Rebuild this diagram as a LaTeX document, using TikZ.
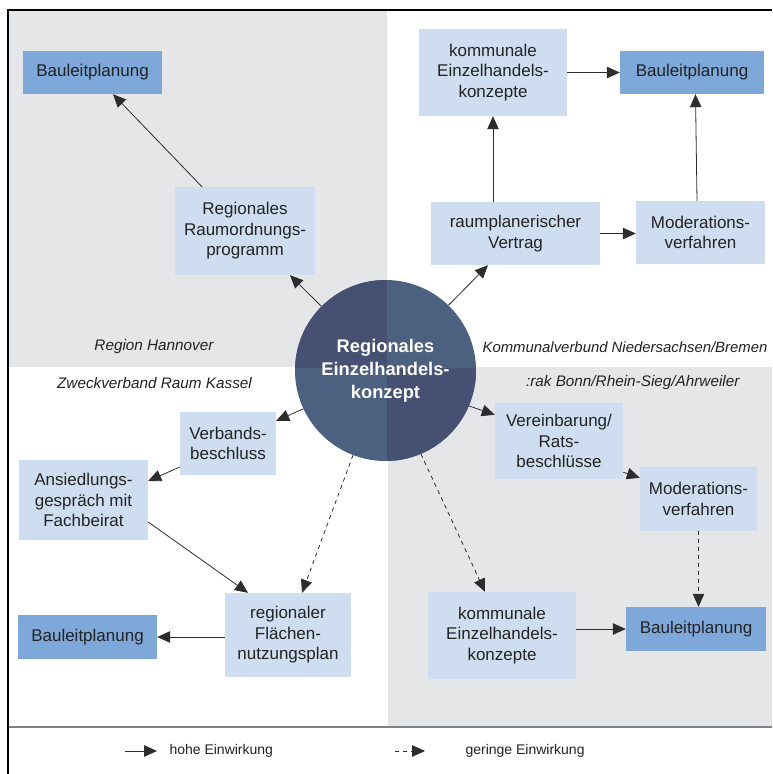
\documentclass[tikz,border=0pt]{standalone}
\usepackage{fontspec}
\usetikzlibrary{arrows.meta,positioning}
\newfontfamily\arial{Liberation Sans}
\definecolor{hellblau}{RGB}{206,222,240}
\definecolor{mittelblau}{RGB}{126,168,218}
\definecolor{feldgrau}{RGB}{229,230,232}
\definecolor{kreisa}{RGB}{70,80,115}
\definecolor{kreisb}{RGB}{76,96,128}
\definecolor{linie}{RGB}{45,45,45}
\definecolor{schrift}{RGB}{35,35,35}

\begin{document}
\begin{tikzpicture}[x=1pt,y=-1pt,
  box/.style={fill=hellblau,inner sep=0pt,align=center,text=schrift,
    font=\arial\fontsize{17}{20.5}\selectfont},
  dbox/.style={box,fill=mittelblau},
  region/.style={text=schrift,font=\arial\itshape\fontsize{15.3}{18}\selectfont},
  legende/.style={text=schrift,font=\arial\fontsize{14}{17}\selectfont},
  hi/.style={draw=linie,line width=0.8pt,-{Triangle[length=13pt,width=11.5pt]}},
  lo/.style={hi,dash pattern=on 4pt off 4pt}]
  \clip (0,0) rectangle (772,774);
  \fill[white] (0,0) rectangle (772,774);
  \fill[feldgrau] (9,11) rectangle (387,367);
  \fill[feldgrau] (388,367) rectangle (772,726);

  \node[circle,minimum size=181pt,inner sep=0pt,fill=kreisb,text=white,align=center,
    font=\arial\bfseries\fontsize{18.3}{23}\selectfont,
    path picture={
      \fill[kreisa] (path picture bounding box.north west) rectangle
        ([xshift=1.5pt,yshift=2.5pt]path picture bounding box.center);
      \fill[kreisa] ([xshift=1.5pt,yshift=2.5pt]path picture bounding box.center) rectangle
        (path picture bounding box.south east);}]
    (rek) at (385.5,370.5) {Regionales\\Einzelhandels-\\konzept};

  % Region Hannover
  \node[dbox,minimum width=139pt,minimum height=43pt] (bl1) at (92.5,72.5) {Bauleitplanung};
  \node[box,minimum width=140pt,minimum height=88pt] (rrp) at (245,231) {Regionales\\Raumordnungs-\\programm};
  \node[region] (hannover) at (154,347) {Region Hannover};
  \draw[hi] (rek.135) -- ([xshift=45pt]rrp.south);
  \draw[hi] ([xshift=-43pt]rrp.north) -- ([xshift=20.5pt]bl1.south);

  % Kommunalverbund
  \node[box,minimum width=148pt,minimum height=87pt] (kek1) at (493,72.5) {kommunale\\Einzelhandels-\\konzepte};
  \node[dbox,minimum width=144pt,minimum height=43pt] (bl2) at (692,72.5) {Bauleitplanung};
  \node[box,minimum width=169pt,minimum height=63pt] (rv) at (515.5,233.5) {raumplanerischer\\Vertrag};
  \node[box,minimum width=129pt,minimum height=63pt] (mv1) at (700.5,232.5) {Moderations-\\verfahren};
  \node[region,anchor=east,font=\arial\itshape\fontsize{14.9}{18}\selectfont] (kvb) at (771,347)
    {Kommunalverbund Niedersachsen/Bremen};
  \draw[hi] (rek.46) -- ([xshift=-27.5pt]rv.south);
  \draw[hi] (kek1.south |- rv.north) -- (kek1.south);
  \draw[hi] (kek1.east) -- (bl2.west);
  \draw[hi] (rv.east) -- (mv1.west |- rv.east);
  \draw[hi] ([xshift=-3.5pt]mv1.north) -- ([xshift=3.5pt]bl2.south);

  % Zweckverband
  \node[box,minimum width=96pt,minimum height=63pt] (vb) at (228,443.5) {Verbands-\\beschluss};
  \node[box,minimum width=129pt,minimum height=80pt] (ag) at (83.5,500) {Ansiedlungs-\\gespräch mit\\Fachbeirat};
  \node[box,minimum width=126pt,minimum height=84pt] (rfnp) at (288,635) {regionaler\\Flächen-\\nutzungsplan};
  \node[dbox,minimum width=139pt,minimum height=44pt] (bl3) at (87.5,637) {Bauleitplanung};
  \node[region] (kassel) at (154.5,383) {Zweckverband Raum Kassel};
  \draw[hi] (rek.205) -- ([yshift=-9pt]vb.north east);
  \draw[hi] ([yshift=-23.5pt]vb.west) -- ([yshift=19pt]ag.east);
  \draw[hi] ([yshift=-22pt]ag.east) -- ([xshift=-40pt]rfnp.north);
  \draw[lo] (rek.249) -- ([xshift=14pt]rfnp.north);
  \draw[hi] (bl3.east -| rfnp.west) -- (bl3.east);

  % Bonn/Rhein-Sieg/Ahrweiler
  \node[box,minimum width=128pt,minimum height=76pt] (vr) at (559,441) {Vereinbarung/\\Rats-\\beschlüsse};
  \node[box,minimum width=117pt,minimum height=64pt] (mv2) at (698.5,499) {Moderations-\\verfahren};
  \node[box,minimum width=148pt,minimum height=87pt] (kek2) at (502,635.5) {kommunale\\Einzelhandels-\\konzepte};
  \node[dbox,minimum width=140pt,minimum height=44pt] (bl4) at (696,629) {Bauleitplanung};
  \node[region,anchor=east] (bonn) at (743,383) {:rak Bonn/Rhein-Sieg/Ahrweiler};
  \draw[hi] (rek.337) -- ([yshift=-12pt]vr.north west);
  \draw[hi] ([yshift=7pt]vr.south east) -- ([yshift=-11pt]mv2.north west);
  \draw[lo] (rek.293.4) -- ([xshift=-17pt]kek2.north);
  \draw[lo] (mv2.south) -- (mv2.south |- bl4.north);
  \draw[hi] (kek2.east |- bl4.west) -- (bl4.west);

  % Rahmen und Legende
  \draw[black!50,line width=2pt] (8,727) -- (772,727);
  \draw[black,line width=2.5pt] (8,774) -- (8,10) -- (772,10);
  \coordinate (h1) at (125,751);
  \coordinate (h2) at (157,751);
  \coordinate (g1) at (395,751);
  \coordinate (g2) at (425,751);
  \draw[hi] (h1) -- (h2);
  \draw[lo] (g1) -- (g2);
  \node[legende,anchor=west] (hohe) at (166,751) {hohe Einwirkung};
  \node[legende,anchor=west] (geringe) at (462,751) {geringe Einwirkung};
\end{tikzpicture}
\end{document}
